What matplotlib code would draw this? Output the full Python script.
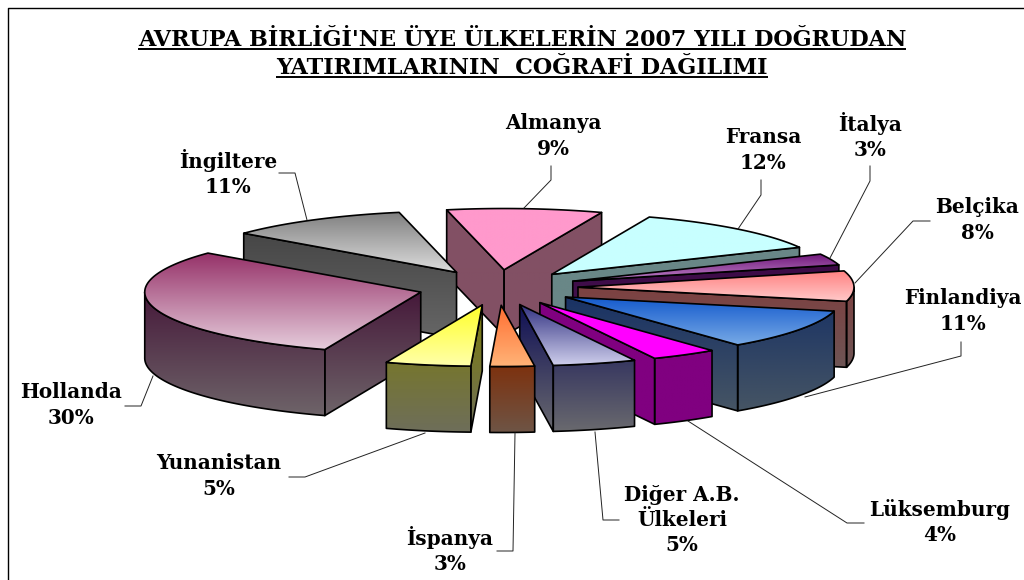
import numpy as np
import matplotlib
matplotlib.use("Agg")
import matplotlib.pyplot as plt
from matplotlib.path import Path
from matplotlib.patches import PathPatch

# ---- data ----
names = ["Almanya", "Fransa", "İtalya", "Belçika", "Finlandiya", "Lüksemburg",
         "Diğer A.B.\nÜlkeleri", "İspanya", "Yunanistan", "Hollanda", "İngiltere"]
values = [9.1, 12.0, 3.0, 8.0, 10.6, 3.9, 4.9, 2.6, 5.0, 30.4, 10.7]
title_lines = ["AVRUPA BİRLİĞİ'NE ÜYE ÜLKELERİN 2007 YILI DOĞRUDAN",
               "YATIRIMLARININ  COĞRAFİ DAĞILIMI"]

# ---- styles ----
top_colors = [("#FF99CC", "#FF99CC"), ("#C8FFFF", "#C8FFFF"), ("#6E1478", "#BE82C8"),
              ("#FF8080", "#FFC8C8"), ("#145ACD", "#78AAE6"), ("#FF00FF", "#FF00FF"),
              ("#323282", "#CDCDEB"), ("#FF6E32", "#FFB478"), ("#FFFF28", "#FFFFAA"),
              ("#963269", "#E6CDDC"), ("#808080", "#DCDCDC")]
side_colors = [("#825064", "#825064"), ("#698787", "#698787"), ("#3C0A46", "#4A1A55"),
               ("#7D4141", "#6E5555"), ("#193264", "#465564"), ("#800080", "#800080"),
               ("#0F0F55", "#69696E"), ("#7D320F", "#6E5546"), ("#7D7D0A", "#6E6E5A"),
               ("#46193A", "#6E6469"), ("#464646", "#666666")]
draw_order = [0, 1, 10, 2, 3, 4, 9, 5, 6, 8, 7]
label_pos = [(553, 136), (763, 150), (870, 136), (977, 220), (963, 311), (940, 522),
             (682, 520), (450, 550), (219, 476), (71, 405), (228, 173)]
leaders = [[(551, 166), (551, 180), (524, 208)], [(761, 180), (761, 195), (738, 229)],
           [(870, 166), (870, 181), (830, 258)], [(930, 221), (913, 221), (855, 283)],
           [(961, 342), (961, 356), (805, 397)], [(864, 523), (847, 523), (688, 421)],
           [(619, 520), (603, 520), (595, 432)], [(497, 551), (513, 551), (515, 433)],
           [(289, 477), (305, 477), (425, 433)], [(125, 406), (141, 406), (153, 376)],
           [(279, 173), (295, 173), (307, 220)]]

CX, CY, R, K, EXPLODE, DEPTH, START = 498, 287.5, 276, 0.222, 80, 66, -12
FONT = "DejaVu Serif"

fig = plt.figure(figsize=(10.24, 5.8), dpi=100, facecolor="white")
ax = fig.add_axes([0, 0, 1, 1])
ax.set_axis_off()


def grad(c0, c1, clip, ymin, ymax, xmin, xmax, z):
    rgb0 = np.array(matplotlib.colors.to_rgb(c0))
    rgb1 = np.array(matplotlib.colors.to_rgb(c1))
    t = np.linspace(0, 1, 128)[:, None, None]
    img = rgb0[None, None, :] * (1 - t) + rgb1[None, None, :] * t
    im = ax.imshow(img, extent=(xmin, xmax, ymax, ymin), aspect="auto", zorder=z,
                   interpolation="bilinear")
    im.set_clip_path(clip)


def pt(theta, r, ox, oy):
    a = np.radians(theta)
    return ox + r * np.sin(a), oy - K * r * np.cos(a)


total = sum(values)
angles = np.cumsum([0] + values) / total * 360 + START

for z, i in enumerate(draw_order):
    a0, a1 = angles[i], angles[i + 1]
    mid = (a0 + a1) / 2
    ox, oy = pt(mid, EXPLODE, CX, CY)
    th = np.linspace(a0, a1, max(int(a1 - a0) * 2, 8))
    ax_, ay_ = pt(th, R, ox, oy)
    tx = np.r_[ox, ax_]
    ty = np.r_[oy, ay_]
    polys = []
    if np.sin(np.radians(a0)) < 0:
        polys.append([(ox, oy), (ax_[0], ay_[0]), (ax_[0], ay_[0] + DEPTH), (ox, oy + DEPTH)])
    if np.sin(np.radians(a1)) > 0:
        polys.append([(ox, oy), (ax_[-1], ay_[-1]), (ax_[-1], ay_[-1] + DEPTH), (ox, oy + DEPTH)])
    lo, hi = max(a0, 90), min(a1, 270)
    if hi > lo:
        t2 = np.linspace(lo, hi, max(int(hi - lo) * 2, 8))
        rx, ry = pt(t2, R, ox, oy)
        polys.append(list(zip(rx, ry)) + list(zip(rx[::-1], ry[::-1] + DEPTH)))
    base = z * 10 + 2
    if polys:
        all_pts = np.array([q for p in polys for q in p])
        for p in polys:
            pp = PathPatch(Path(p + [p[0]], closed=True), transform=ax.transData,
                           fc="none", ec="none")
            ax.add_patch(pp)
            grad(*side_colors[i], pp, all_pts[:, 1].min(), all_pts[:, 1].max(),
                 all_pts[:, 0].min(), all_pts[:, 0].max(), base)
            ax.add_patch(PathPatch(Path(p + [p[0]], closed=True), fc="none", ec="black",
                                   lw=1.2, zorder=base + 1, joinstyle="round"))
    top = list(zip(tx, ty))
    pp = PathPatch(Path(top + [top[0]], closed=True), fc="none", ec="none")
    ax.add_patch(pp)
    grad(*top_colors[i], pp, ty.min(), ty.max(), tx.min(), tx.max(), base + 2)
    ax.add_patch(PathPatch(Path(top + [top[0]], closed=True), fc="none", ec="black",
                           lw=1.2, zorder=base + 3, joinstyle="round"))

ax.set_xlim(0, 1024)
ax.set_ylim(580, 0)

ax.plot([7.5, 7.5, 1024], [580, 7.5, 7.5], color="black", lw=1.0, zorder=200, clip_on=False)

for line in leaders:
    xs, ys = zip(*line)
    ax.plot(xs, ys, color="#222222", lw=0.7, zorder=150)

for name, v, (x, y) in zip(names, values, label_pos):
    ax.text(x, y, f"{name}\n{round(v)}%", ha="center", va="center", family=FONT,
            weight="bold", fontsize=14.4, linespacing=1.34, zorder=300)

r = fig.canvas.get_renderer()
for line, by, uy in zip(title_lines, [45.5, 73.5], [48.7, 76.5]):
    t = ax.text(522, by, line, ha="center", va="baseline", family=FONT, weight="bold",
                fontsize=16.0, zorder=300)
    bb = t.get_window_extent(r)
    ax.plot([bb.x0, bb.x1], [uy, uy], color="black", lw=1.4, zorder=300,
            solid_capstyle="butt")

fig.savefig("out.png", dpi=100)
